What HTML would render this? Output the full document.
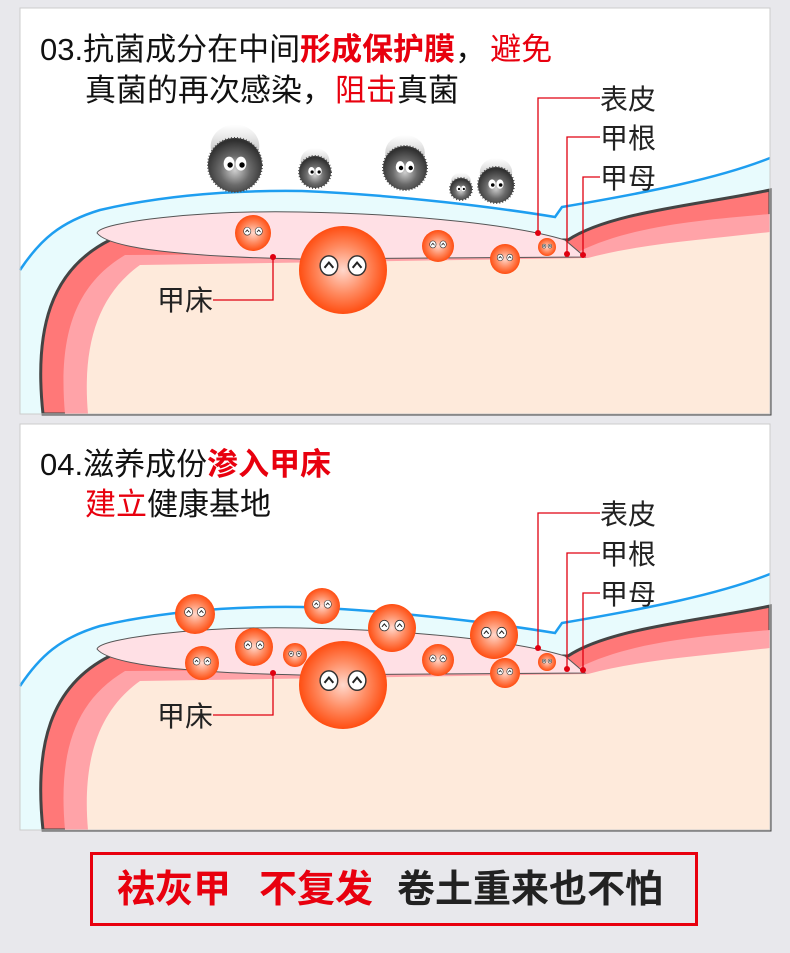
<!DOCTYPE html>
<html><head><meta charset="utf-8"><style>
html,body{margin:0;padding:0;background:#e8e8ec;}
body{width:790px;height:953px;overflow:hidden;position:relative;font-family:"Liberation Sans","Noto Sans CJK SC",sans-serif;}
svg{position:absolute;left:0;top:0;}
</style></head><body>
<svg id="s" width="790" height="953" viewBox="0 0 790 953" xmlns="http://www.w3.org/2000/svg">
<defs>
<radialGradient id="ball" cx="0.5" cy="0.5" r="0.55">
<stop offset="0" stop-color="#ffd8cc"/><stop offset="0.5" stop-color="#ff8a60"/><stop offset="1" stop-color="#ff4000"/></radialGradient>
<radialGradient id="germ" cx="0.5" cy="0.6" r="0.55">
<stop offset="0" stop-color="#cfcfcf"/><stop offset="0.5" stop-color="#6a6a6a"/><stop offset="1" stop-color="#303030"/></radialGradient>
<linearGradient id="fuzz" x1="0" y1="0" x2="0" y2="1"><stop offset="0" stop-color="#888" stop-opacity="0"/><stop offset="1" stop-color="#555" stop-opacity="0.6"/></linearGradient>
<g id="anat">
<path d="M20,270 C40,240 60,222 100,210 C160,196 230,190 302,191 C400,195 500,208 555,217 L562,207 C650,192 720,178 770,158 L770,414 L20,414 Z" fill="#e8fbfd"/>
<path d="M20,270 C40,240 60,222 100,210 C160,196 230,190 302,191 C400,195 500,208 555,217 L562,207 C650,192 720,178 770,158" fill="none" stroke="#1e9ef0" stroke-width="2.5"/>
<path d="M43,414 C34,330 50,270 110,240 L568,240 C610,212 700,205 770,190 L770,414 Z" fill="#ff7878" stroke="#444" stroke-width="3"/>
<path d="M65,414 C58,335 75,285 125,255 L578,252 C630,226 700,220 770,214 L770,414 Z" fill="#ffa3a8"/>
<path d="M88,414 C82,345 98,295 140,265 L588,258 C640,244 700,240 770,232 L770,414 Z" fill="#feeadb"/>
<path d="M97,233 C100,222 200,210 300,212 C420,214 520,226 565,240 L585,257 L300,259 C200,257 110,250 97,233Z" fill="#ffe0e5" stroke="#555" stroke-width="1"/>
</g>
</defs>
<rect x="20" y="8" width="750" height="406" fill="#fff" stroke="#ccc"/>
<rect x="20" y="424" width="750" height="406" fill="#fff" stroke="#ccc"/>
<use href="#anat"/>
<g transform="translate(0,416)"><use href="#anat"/></g>
<rect x="20" y="8" width="750" height="406" fill="none" stroke="#ccc"/>
<rect x="20" y="424" width="750" height="406" fill="none" stroke="#ccc"/>
<g id="balls"></g>
<g fill="none" stroke="#e00010" stroke-width="1.3">
<path d="M600,98 H538 V233"/><path d="M600,137 H567 V254"/><path d="M600,177 H583 V255"/><path d="M213,300 H273 V257"/>
<path d="M600,513 H538 V648"/><path d="M600,553 H567 V669"/><path d="M600,593 H583 V670"/><path d="M213,715 H273 V673"/>
</g>
<g fill="#e00010">
<circle cx="538" cy="233" r="3"/><circle cx="567" cy="254" r="3"/><circle cx="583" cy="255" r="3"/><circle cx="273" cy="257" r="3"/>
<circle cx="538" cy="648" r="3"/><circle cx="567" cy="669" r="3"/><circle cx="583" cy="670" r="3"/><circle cx="273" cy="673" r="3"/>
</g>
<g font-family="Liberation Sans, Noto Sans CJK SC, sans-serif" font-size="28" fill="#222">
<text x="600" y="109">表皮</text><text x="600" y="148">甲根</text><text x="600" y="188">甲母</text><text x="157" y="310">甲床</text>
<text x="600" y="524">表皮</text><text x="600" y="564">甲根</text><text x="600" y="604">甲母</text><text x="157" y="726">甲床</text>
</g>
<g font-family="Liberation Sans, Noto Sans CJK SC, sans-serif" font-size="31" fill="#111">
<text x="40" y="60">03.抗菌成分在中间<tspan fill="#e8000e" font-weight="bold">形成保护膜</tspan>，<tspan fill="#e8000e" dx="4">避免</tspan></text>
<text x="85" y="101">真菌的再次感染，<tspan fill="#e8000e" dx="2">阻击</tspan>真菌</text>
<text x="40" y="475">04.滋养成份<tspan fill="#e8000e" font-weight="bold">渗入甲床</tspan></text>
<text x="85" y="515"><tspan fill="#e8000e">建立</tspan>健康基地</text>
</g>
<rect x="91.5" y="853.5" width="605" height="71" fill="none" stroke="#e8000e" stroke-width="3"/>
<g font-family="Liberation Sans, Noto Sans CJK SC, sans-serif" font-size="38" font-weight="bold">
<text x="117" y="902" fill="#e8000e">祛灰甲</text>
<text x="259" y="902" fill="#e8000e">不复发</text>
<text x="397" y="902" fill="#222">卷土重来也不怕</text>
</g>
</svg>
<script>
var g=document.getElementById('balls'),h='';
function ball(x,y,r){var e=r*0.32,er=r*0.2;
h+='<circle cx="'+x+'" cy="'+y+'" r="'+r+'" fill="url(#ball)"/>';
[-1,1].forEach(function(s){var ex=x+s*e,ey=y-r*0.1;
h+='<ellipse cx="'+ex+'" cy="'+ey+'" rx="'+er+'" ry="'+er*1.1+'" fill="#fff" stroke="#333" stroke-width="'+Math.max(0.6,r/30)+'"/>';
h+='<path d="M'+(ex-er*0.5)+','+(ey+er*0.25)+' L'+ex+','+(ey-er*0.35)+' L'+(ex+er*0.5)+','+(ey+er*0.25)+'" fill="none" stroke="#222" stroke-width="'+Math.max(0.8,r/22)+'"/>';});}
function germ(x,y,r){
h+='<ellipse cx="'+x+'" cy="'+(y-r*0.7)+'" rx="'+r*0.9+'" ry="'+r*0.8+'" fill="url(#fuzz)"/>';
h+='<circle cx="'+x+'" cy="'+y+'" r="'+r+'" fill="url(#germ)" stroke="#444" stroke-width="2" stroke-dasharray="1 2"/>';
[-1,1].forEach(function(s){var ex=x+s*r*0.22,ey=y-r*0.05;
h+='<ellipse cx="'+ex+'" cy="'+ey+'" rx="'+r*0.2+'" ry="'+r*0.26+'" fill="#fff"/><circle cx="'+(ex+r*0.04)+'" cy="'+(ey+r*0.05)+'" r="'+r*0.1+'" fill="#000"/>';});}
germ(235,165,27);germ(315,172,16);germ(405,168,22);germ(461,189,11);germ(496,185,18);
[[253,233,18],[438,246,16],[505,259,15],[547,247,9],[343,270,44]].forEach(function(b){ball(b[0],b[1],b[2]);});
[[195,614,20],[322,606,18],[392,628,24],[494,635,24],[254,647,19],[295,655,12],[202,663,17],[438,660,16],[505,673,15],[547,662,9],[343,685,44]].forEach(function(b){ball(b[0],b[1],b[2]);});
g.innerHTML=h;
</script>
</body></html>
